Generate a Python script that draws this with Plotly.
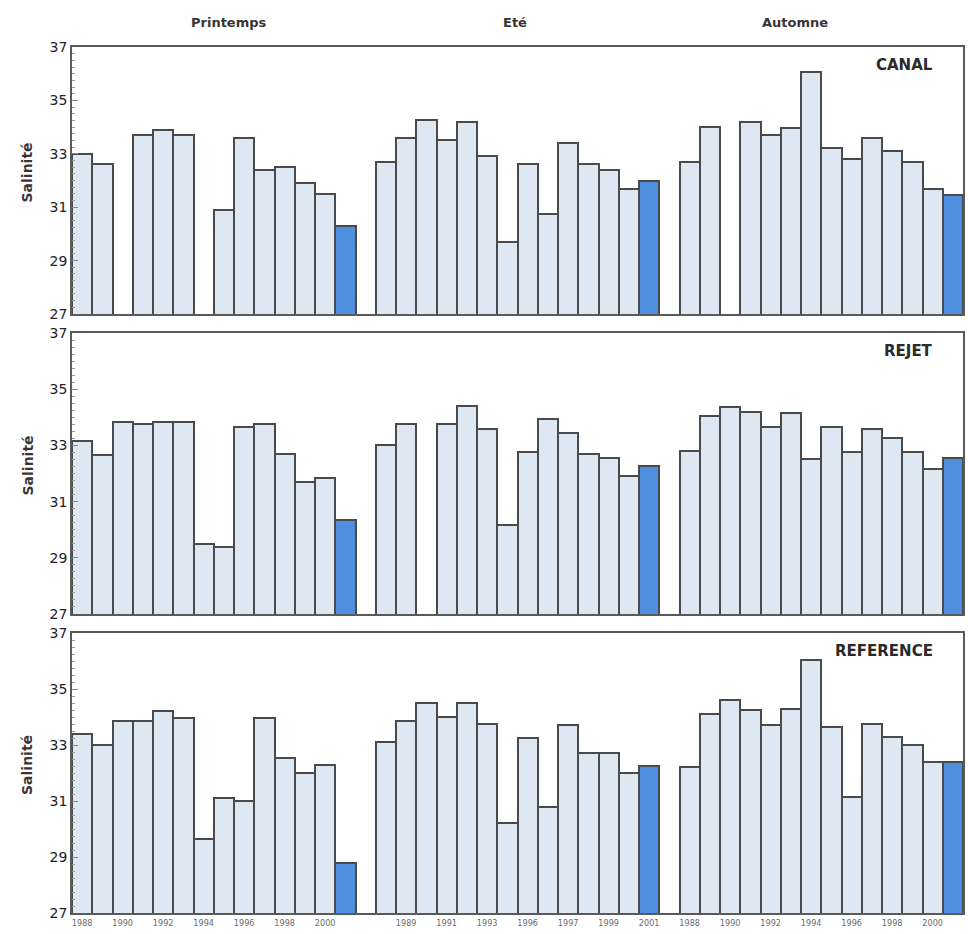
import plotly.graph_objects as go

# ---------------- data ----------------
years = list(range(1988, 2002))
seasons = ["Printemps", "Eté", "Automne"]
stations = ["CANAL", "REJET", "REFERENCE"]

canal_printemps = [33.0, 32.6, None, 33.7, 33.9, 33.7, None, 30.9, 33.6, 32.4, 32.5, 31.9, 31.5, 30.3]
canal_ete = [32.7, 33.6, 34.25, 33.5, 34.2, 32.9, 29.7, 32.6, 30.75, 33.4, 32.6, 32.4, 31.7, 32.0]
canal_automne = [32.7, 34.0, None, 34.2, 33.7, 33.95, 36.05, 33.2, 32.8, 33.6, 33.1, 32.7, 31.7, 31.45]

rejet_printemps = [33.15, 32.65, 33.85, 33.75, 33.85, 33.85, 29.5, 29.4, 33.65, 33.75, 32.7, 31.7, 31.85, 30.35]
rejet_ete = [33.0, 33.75, None, 33.75, 34.4, 33.6, 30.15, 32.75, 33.95, 33.45, 32.7, 32.55, 31.9, 32.25]
rejet_automne = [32.8, 34.05, 34.35, 34.2, 33.65, 34.15, 32.5, 33.65, 32.75, 33.6, 33.25, 32.75, 32.15, 32.55]

reference_printemps = [33.4, 33.0, 33.85, 33.85, 34.2, 33.95, 29.65, 31.1, 31.0, 33.95, 32.55, 32.0, 32.3, 28.8]
reference_ete = [33.1, 33.85, 34.5, 34.0, 34.5, 33.75, 30.2, 33.25, 30.8, 33.7, 32.7, 32.7, 32.0, 32.25]
reference_automne = [32.2, 34.1, 34.6, 34.25, 33.7, 34.3, 36.05, 33.65, 31.15, 33.75, 33.3, 33.0, 32.4, 32.4]

tick_years_printemps = ["1988", "1990", "1992", "1994", "1996", "1998", "2000"]
tick_years_ete = ["1989", "1991", "1993", "1996", "1997", "1999", "2001"]
tick_years_automne = ["1988", "1990", "1992", "1994", "1996", "1998", "2000"]

highlight_year = 2001
y_ticks = [27, 29, 31, 33, 35, 37]

station_data = {
    "CANAL": [canal_printemps, canal_ete, canal_automne],
    "REJET": [rejet_printemps, rejet_ete, rejet_automne],
    "REFERENCE": [reference_printemps, reference_ete, reference_automne],
}

# ---------------- style ----------------
LIGHT = "#dde8f3"
DARK = "#4f8fe0"
EDGE = "#4a4a4a"
AXIS = "#5a5a5a"
TEXT = "#3a3434"
gap = 1  # empty slot between seasons
slot = len(years) + gap

W, H = 968, 934
x0_px, x1_px = 72, 963
rows_px = [(47, 314), (333, 614), (633, 913)]

fig = go.Figure()

for r, st in enumerate(stations):
    xs, ys, cols = [], [], []
    for s, vals in enumerate(station_data[st]):
        for i, (yr, v) in enumerate(zip(years, vals)):
            xs.append(s * slot + i)
            ys.append(v)
            cols.append(DARK if yr == highlight_year else LIGHT)
    sfx = "" if r == 0 else str(r + 1)
    fig.add_trace(go.Bar(
        x=xs, y=ys, width=1.0,
        marker=dict(color=cols, line=dict(color=EDGE, width=2)),
        xaxis="x" + sfx, yaxis="y" + sfx, showlegend=False,
        hoverinfo="x+y",
    ))

    top, bot = rows_px[r]
    show_x = (r == 2)
    tickvals, ticktext = [], []
    for s, labels in enumerate([tick_years_printemps, tick_years_ete, tick_years_automne]):
        start = 0 if s != 1 else 1
        for k, lab in enumerate(labels):
            tickvals.append(s * slot + start + 2 * k)
            ticktext.append(lab)

    xa = dict(
        domain=[x0_px / W, x1_px / W],
        range=[-0.5, 3 * slot - gap - 0.5],
        showline=True, linecolor=AXIS, linewidth=1.5, mirror=True,
        showgrid=False, zeroline=False, ticks="",
        tickvals=tickvals if show_x else [],
        ticktext=ticktext if show_x else [],
        showticklabels=show_x,
        tickfont=dict(family="DejaVu Sans Condensed, DejaVu Sans", size=9, color="#6a6a6a"),
        anchor="y" + sfx, automargin=False,
    )
    ya = dict(
        domain=[1 - bot / H, 1 - top / H],
        range=[27, 37],
        tickvals=y_ticks,
        tickfont=dict(family="DejaVu Sans", size=14, color="#222222"),
        showline=True, linecolor=AXIS, linewidth=1.5, mirror=True,
        showgrid=False, zeroline=False,
        ticks="inside", ticklen=6, tickcolor="#888888",
        minor=dict(ticks="inside", dtick=0.25, ticklen=3, tickcolor="#999999"),
        anchor="x" + sfx, automargin=False,
    )
    fig.layout["xaxis" + sfx] = xa
    fig.layout["yaxis" + sfx] = ya

    # station label
    fig.add_annotation(
        text="<b>" + st + "</b>", xref="paper", yref="paper",
        x=935 / W, y=1 - (top + 18) / H, xanchor="right", yanchor="middle",
        showarrow=False, font=dict(family="DejaVu Sans", size=15, color="#2a2a2a"),
        bgcolor="white" if st == "REFERENCE" else None,
    )
    # y axis title
    fig.add_annotation(
        text="<b>Salinité</b>", xref="paper", yref="paper",
        x=27 / W, y=1 - ((top + bot) / 2 - 8) / H, xanchor="center", yanchor="middle",
        textangle=-90, showarrow=False,
        font=dict(family="DejaVu Sans", size=14, color=TEXT),
    )

# season titles
for name, cx in zip(seasons, [229, 515, 795]):
    fig.add_annotation(
        text="<b>" + name + "</b>", xref="paper", yref="paper",
        x=cx / W, y=1 - 23 / H, xanchor="center", yanchor="middle",
        showarrow=False, font=dict(family="DejaVu Sans", size=13, color=TEXT),
    )

fig.update_layout(
    width=W, height=H,
    margin=dict(l=0, r=0, t=0, b=0),
    paper_bgcolor="white", plot_bgcolor="white",
    bargap=0, template="none",
)

fig.write_html("out.html")
